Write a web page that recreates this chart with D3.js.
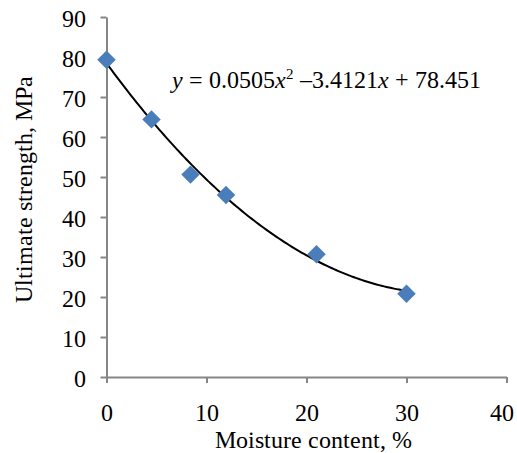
<!DOCTYPE html>
<html>
<head>
<meta charset="utf-8">
<script src="https://cdn.jsdelivr.net/npm/d3@7"></script>
<style>
  @font-face { font-family: "ChartSerif"; src: local("Liberation Serif"), local("LiberationSerif"), local("LiberationSerif-Regular"); font-style: normal; }
  @font-face { font-family: "ChartSerif"; src: local("Liberation Serif Italic"), local("LiberationSerif-Italic"); font-style: italic; }
  body { margin: 0; background: #fff; }
</style>
</head>
<body>
<svg id="chart" width="517" height="453" font-family="Liberation Serif"></svg>
<script>
// measured points
let moisture = [0, 4.5, 8.4, 11.95, 21, 30];
let strength = [79.3, 64.4, 50.6, 45.5, 30.7, 20.8];

// trendline coefficients shown on the chart
let coefA = 0.0505, coefB = -3.4121, coefC = 78.451;

let xTicks = [0, 10, 20, 30, 40];
let yTicks = [0, 10, 20, 30, 40, 50, 60, 70, 80, 90];

let serif = "ChartSerif, 'Liberation Serif', 'DejaVu Serif'";
let fontSize = 24;
let axisColor = "#868686";

let svg = d3.select("#chart");

let x = d3.scaleLinear().domain([0, 40]).range([106.5, 506.5]);
let y = d3.scaleLinear().domain([0, 90]).range([377, 17]);

// y axis
let yAxis = svg.append("g")
  .attr("transform", "translate(" + x(0) + ",0)")
  .call(d3.axisLeft(y).tickValues(yTicks).tickSize(6).tickPadding(15).tickSizeOuter(0));
// x axis
let xAxis = svg.append("g")
  .attr("transform", "translate(0," + y(0) + ")")
  .call(d3.axisBottom(x).tickValues(xTicks).tickSize(6).tickPadding(21).tickSizeOuter(0));

[xAxis, yAxis].forEach(g => {
  g.attr("font-family", "Liberation Serif").attr("font-size", fontSize);
  g.select(".domain").attr("stroke", axisColor).attr("stroke-width", 2);
  g.selectAll(".tick line").attr("stroke", axisColor).attr("stroke-width", 2);
  g.selectAll(".tick text")
    .attr("font-size", fontSize)
    .style("font-family", serif)
    .attr("fill", "#000");
});
yAxis.selectAll(".tick text").attr("dy", "0.38em");
// last label kept inside the frame
xAxis.selectAll(".tick text").filter(d => d === 40).attr("dx", -5);

// trendline
let curve = d3.range(0, 30.01, 0.25).map(m => [m, coefA*m*m + coefB*m + coefC]);
svg.append("path")
  .datum(curve)
  .attr("fill", "none")
  .attr("stroke", "#000")
  .attr("stroke-width", 2)
  .attr("d", d3.line().x(d => x(d[0])).y(d => y(d[1])));

// diamonds
svg.selectAll(".pt")
  .data(moisture)
  .enter().append("path")
    .attr("class", "pt")
    .attr("d", d3.symbol(d3.symbolSquare, 170))
    .attr("transform", (d, i) => "translate(" + x(d) + "," + y(strength[i]) + ") rotate(45)")
    .attr("fill", "#4A7EBB");

// equation
let eq = svg.append("text")
  .attr("x", 172)
  .attr("y", 88)
  .attr("font-size", fontSize)
  .style("font-family", serif);
eq.append("tspan").attr("font-style", "italic").text("y");
eq.append("tspan").text(" = 0.0505");
eq.append("tspan").attr("font-style", "italic").text("x");
eq.append("tspan").attr("font-size", 15).attr("dy", -9).text("2");
eq.append("tspan").attr("dy", 9).text(" \u20133.4121");
eq.append("tspan").attr("font-style", "italic").text("x");
eq.append("tspan").text(" + 78.451");

// axis titles
svg.append("text")
  .attr("x", 313)
  .attr("y", 448)
  .attr("text-anchor", "middle")
  .attr("font-size", fontSize)
  .style("font-family", serif)
  .text("Moisture content, %");

svg.append("text")
  .attr("transform", "translate(32,189) rotate(-90)")
  .attr("text-anchor", "middle")
  .attr("font-size", fontSize)
  .style("font-family", serif)
  .text("Ultimate strength, MPa");
</script>
</body>
</html>
